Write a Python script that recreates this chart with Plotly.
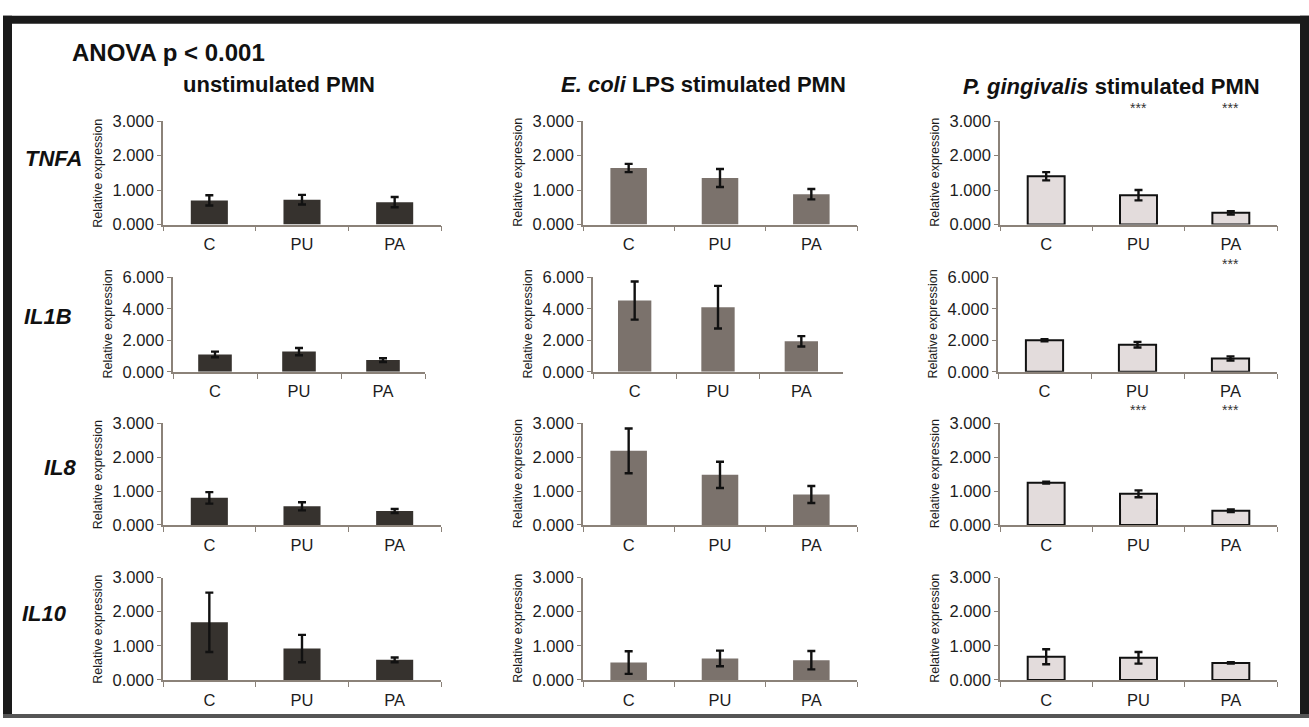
import plotly.graph_objects as go

# ---- data ---------------------------------------------------------------
categories = ["C", "PU", "PA"]
genes = ["TNFA", "IL1B", "IL8", "IL10"]
conditions = ["unstimulated PMN", "<i>E. coli</i> LPS stimulated PMN",
              "<i>P. gingivalis</i> stimulated PMN"]

tnfa_unstim = [0.70, 0.72, 0.65]
tnfa_unstim_err = [0.15, 0.14, 0.15]
tnfa_lps = [1.64, 1.35, 0.88]
tnfa_lps_err = [0.12, 0.26, 0.15]
tnfa_pg = [1.40, 0.85, 0.34]
tnfa_pg_err = [0.12, 0.15, 0.05]

il1b_unstim = [1.10, 1.28, 0.74]
il1b_unstim_err = [0.18, 0.23, 0.12]
il1b_lps = [4.52, 4.10, 1.93]
il1b_lps_err = [1.21, 1.35, 0.33]
il1b_pg = [2.00, 1.72, 0.85]
il1b_pg_err = [0.07, 0.18, 0.13]

il8_unstim = [0.80, 0.55, 0.41]
il8_unstim_err = [0.17, 0.12, 0.06]
il8_lps = [2.19, 1.48, 0.90]
il8_lps_err = [0.66, 0.39, 0.25]
il8_pg = [1.25, 0.92, 0.42]
il8_pg_err = [0.03, 0.10, 0.04]

il10_unstim = [1.69, 0.92, 0.59]
il10_unstim_err = [0.87, 0.40, 0.07]
il10_lps = [0.51, 0.63, 0.58]
il10_lps_err = [0.33, 0.23, 0.27]
il10_pg = [0.68, 0.65, 0.50]
il10_pg_err = [0.22, 0.17, 0.02]

# significance vs. control, P. gingivalis stimulated column
tnfa_sig = ["", "***", "***"]
il1b_sig = ["", "", "***"]
il8_sig = ["", "***", "***"]
il10_sig = ["", "", ""]

y_max = [3, 6, 3, 3]
y_step = [1, 2, 1, 1]

means = [[tnfa_unstim, tnfa_lps, tnfa_pg],
         [il1b_unstim, il1b_lps, il1b_pg],
         [il8_unstim, il8_lps, il8_pg],
         [il10_unstim, il10_lps, il10_pg]]
errors = [[tnfa_unstim_err, tnfa_lps_err, tnfa_pg_err],
          [il1b_unstim_err, il1b_lps_err, il1b_pg_err],
          [il8_unstim_err, il8_lps_err, il8_pg_err],
          [il10_unstim_err, il10_lps_err, il10_pg_err]]
sig_marks = [tnfa_sig, il1b_sig, il8_sig, il10_sig]

# ---- layout geometry (pixels) ------------------------------------------
W, H = 1309, 727
FONT = "Liberation Sans, Arial, sans-serif"
col_px = [(163, 441), (583, 857), (1000, 1277)]
col_px_row2 = [(173, 425), (593, 843), (998, 1277)]
row_px = [(115, 221), (275, 372), (425, 529), (583, 688)]

bar_fill = ["#36322e", "#7b726c", "#e3dcdc"]
bar_line = ["#36322e", "#7b726c", "#111111"]
bar_line_w = [0, 0, 2]
axis_col = "#8b8279"
text_col = "#1c1c1c"

fig = go.Figure()
layout = {}
annotations = []

for r in range(4):
    for c in range(3):
        idx = r * 3 + c + 1
        xid = "x" if idx == 1 else f"x{idx}"
        yid = "y" if idx == 1 else f"y{idx}"
        xl, xr = (col_px_row2 if r == 1 else col_px)[c]
        yt, yb = row_px[r]

        fig.add_trace(go.Bar(
            x=categories, y=means[r][c], xaxis=xid, yaxis=yid,
            width=0.4,
            marker=dict(color=bar_fill[c],
                        line=dict(color=bar_line[c], width=bar_line_w[c])),
            error_y=dict(type="data", array=errors[r][c], visible=True,
                         color="#111111", thickness=2.4, width=4),
            showlegend=False, hoverinfo="skip",
        ))

        layout["xaxis" if idx == 1 else f"xaxis{idx}"] = dict(
            domain=[xl / W, xr / W], anchor=yid,
            type="category", range=[-0.5, 2.5],
            showline=True, linecolor=axis_col, linewidth=1.6,
            ticks="outside", tickson="boundaries", ticklen=5,
            tickcolor=axis_col, tickwidth=1.4, ticklabelstandoff=4,
            tickfont=dict(family=FONT, size=16.5, color=text_col),
            showgrid=False, zeroline=False, fixedrange=True,
        )
        layout["yaxis" if idx == 1 else f"yaxis{idx}"] = dict(
            domain=[1 - yb / H, 1 - yt / H], anchor=xid,
            range=[0, y_max[r]], tick0=0, dtick=y_step[r],
            tickformat=".3f",
            showline=True, linecolor=axis_col, linewidth=1.6,
            ticks="outside", ticklen=4, tickcolor=axis_col, tickwidth=1.4,
            tickfont=dict(family=FONT, size=16.5, color=text_col),
            showgrid=False, zeroline=False, fixedrange=True,
        )

        # y-axis title
        annotations.append(dict(
            text="Relative expression", textangle=-90,
            x=(xl - 65) / W, y=1 - (yt + yb) / 2 / H,
            xref="paper", yref="paper", showarrow=False,
            xanchor="center", yanchor="middle",
            font=dict(family=FONT, size=12.5, color=text_col),
        ))

        # significance stars
        if c == 2:
            for cat, mark in zip(categories, sig_marks[r]):
                if mark:
                    annotations.append(dict(
                        text=mark, x=cat, xref=xid,
                        y=1, yref=f"{yid} domain", yanchor="bottom",
                        yshift=3, showarrow=False,
                        font=dict(family=FONT, size=14, color="#333333"),
                    ))

# gene labels
gene_pos = [(53, 153), (48, 315), (60, 470), (44, 620)]
for g, (gx, gy) in zip(genes, gene_pos):
    annotations.append(dict(
        text=f"<b><i>{g}</i></b>", x=gx / W, y=1 - gy / H,
        xref="paper", yref="paper", showarrow=False,
        xanchor="center", yanchor="middle",
        font=dict(family=FONT, size=22, color="#111111"),
    ))

# column titles
title_pos = [(279, 77), (703, 77), (1111, 79)]
for t, (tx, ty) in zip(conditions, title_pos):
    annotations.append(dict(
        text=f"<b>{t}</b>", x=tx / W, y=1 - ty / H,
        xref="paper", yref="paper", showarrow=False,
        xanchor="center", yanchor="middle",
        font=dict(family=FONT, size=22, color="#111111"),
    ))

annotations.append(dict(
    text="<b>ANOVA p < 0.001</b>", x=70 / W, y=1 - 45 / H,
    xref="paper", yref="paper", showarrow=False,
    xanchor="left", yanchor="middle",
    font=dict(family=FONT, size=24, color="#111111"),
))

# outer frame
frame = [
    (3, 7, 1309, 15, "#1a1a1a"),     # top
    (3, 7, 12, 727, "#1a1a1a"),      # left
    (1300, 7, 1309, 727, "#1a1a1a"),  # right
    (3, 723, 1309, 727, "#555555"),  # bottom
]
shapes = [dict(type="rect", xref="paper", yref="paper",
               x0=x0 / W, x1=x1 / W, y0=1 - y1 / H, y1=1 - y0 / H,
               fillcolor=col, line=dict(width=0), layer="above")
          for x0, y0, x1, y1, col in frame]

fig.update_layout(
    width=W, height=H,
    margin=dict(l=0, r=0, t=0, b=0),
    paper_bgcolor="white", plot_bgcolor="white",
    annotations=annotations, shapes=shapes,
    bargap=0.6,
    **layout,
)

fig.write_html("out.html")
